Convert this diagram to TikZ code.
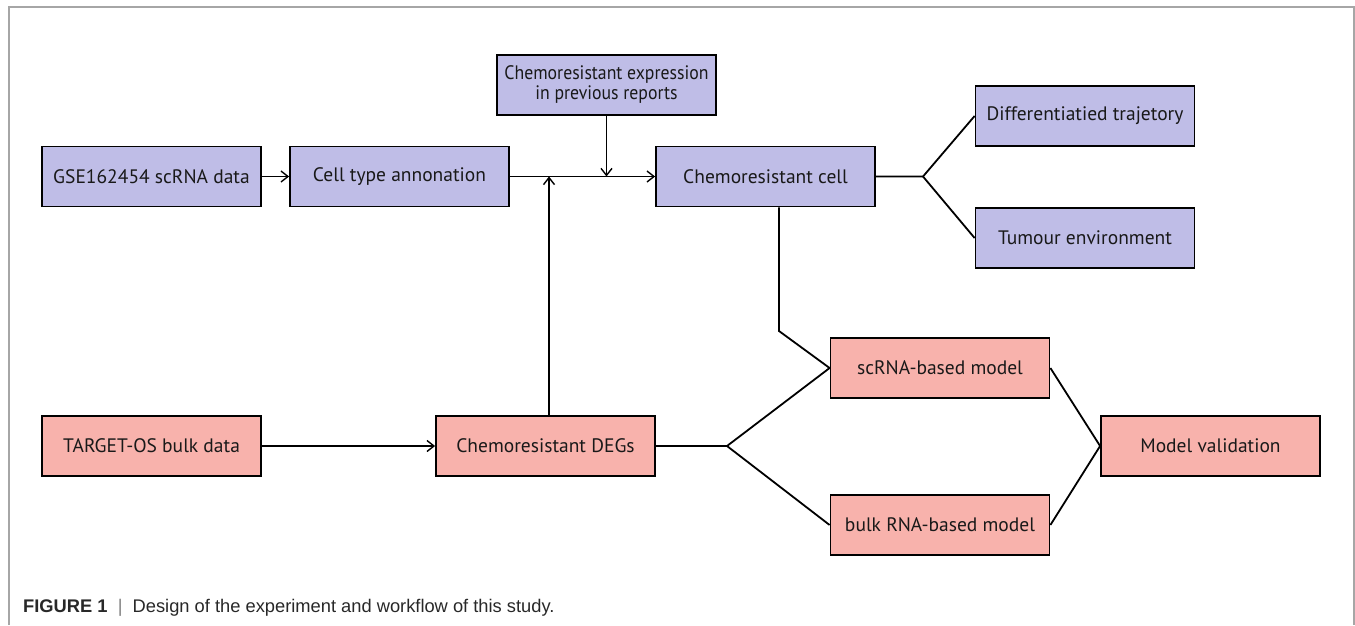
\documentclass[tikz,border=0pt]{standalone}
\usepackage{fontspec}
\setmainfont{Liberation Sans}
\newfontfamily\boxfont{PT Sans}
\newfontfamily\boxfontn[FakeStretch=0.91]{PT Sans}
\usetikzlibrary{arrows.meta}
\definecolor{lav}{RGB}{191,189,231}
\definecolor{pnk}{RGB}{248,178,172}
\definecolor{capgrey}{RGB}{40,40,40}
\tikzset{
  box/.style={draw=black, line width=1.8pt, minimum width=219pt, minimum height=60pt, inner sep=0pt, font=\boxfont\fontsize{19.5}{20}\selectfont, align=center, text=black!90},
  pbox/.style={box, fill=lav},
  rbox/.style={box, fill=pnk},
  conn/.style={line width=1.8pt, draw=black},
  arr/.style={conn, -{Straight Barb[length=7pt, width=11pt, line width=1.4pt]}},
}
\begin{document}
\begin{tikzpicture}[x=1pt, y=-1pt]
\useasboundingbox (0,0) rectangle (1355,625);
\draw[gray!70, line width=1.2pt] (9,625) -- (9,7) -- (1354,7) -- (1354,625);
\node[pbox] (gse) at (151.5,176.5) {GSE162454 scRNA data};
\node[pbox] (cta) at (399.5,176.5) {Cell type annonation};
\node[pbox, font=\boxfontn\fontsize{19.5}{20}\selectfont] (cexp) at (606.5,85) {Chemoresistant expression\\in previous reports};
\node[pbox] (ccell) at (765.5,176.5) {Chemoresistant cell};
\node[pbox] (diff) at (1085,116) {Differentiatied trajetory};
\node[pbox] (tum) at (1085,238) {Tumour environment};
\node[rbox] (target) at (151.5,446) {TARGET-OS bulk data};
\node[rbox] (degs) at (545.5,446) {Chemoresistant DEGs};
\node[rbox] (scrna) at (940,368) {scRNA-based model};
\node[rbox] (bulk) at (940,525) {bulk RNA-based model};
\node[rbox] (mval) at (1210.5,446) {Model validation};
\coordinate (b1) at (923,176.5);
\coordinate (b2) at (727,446);
\coordinate (k1) at (779,331);
\draw[arr] (gse.east) -- (cta.west);
\draw[arr] (cta.east) -- (ccell.west);
\draw[arr] (cexp.south) -- (cexp.south |- cta.east);
\draw[arr] ([xshift=3.5pt]degs.north) -- ([xshift=3.5pt]degs.north |- cta.east);
\draw[conn] (ccell.east) -- (b1) -- (diff.west);
\draw[conn] (b1) -- (tum.west);
\draw[arr] (target.east) -- (degs.west);
\draw[conn] (degs.east) -- (b2) -- (scrna.west);
\draw[conn] (b2) -- (bulk.west);
\draw[conn] ([xshift=13.5pt]ccell.south) -- (k1) -- (scrna.west);
\draw[conn] (scrna.east) -- (mval.west);
\draw[conn] (bulk.east) -- (mval.west);
\node[anchor=west, inner sep=0pt, text=capgrey, font=\fontsize{18.3}{20}\selectfont] (cap) at (23,608) {\textbf{FIGURE 1}\ \ {\color{gray}|}\ \ Design of the experiment and workflow of this study.};
\end{tikzpicture}
\end{document}
